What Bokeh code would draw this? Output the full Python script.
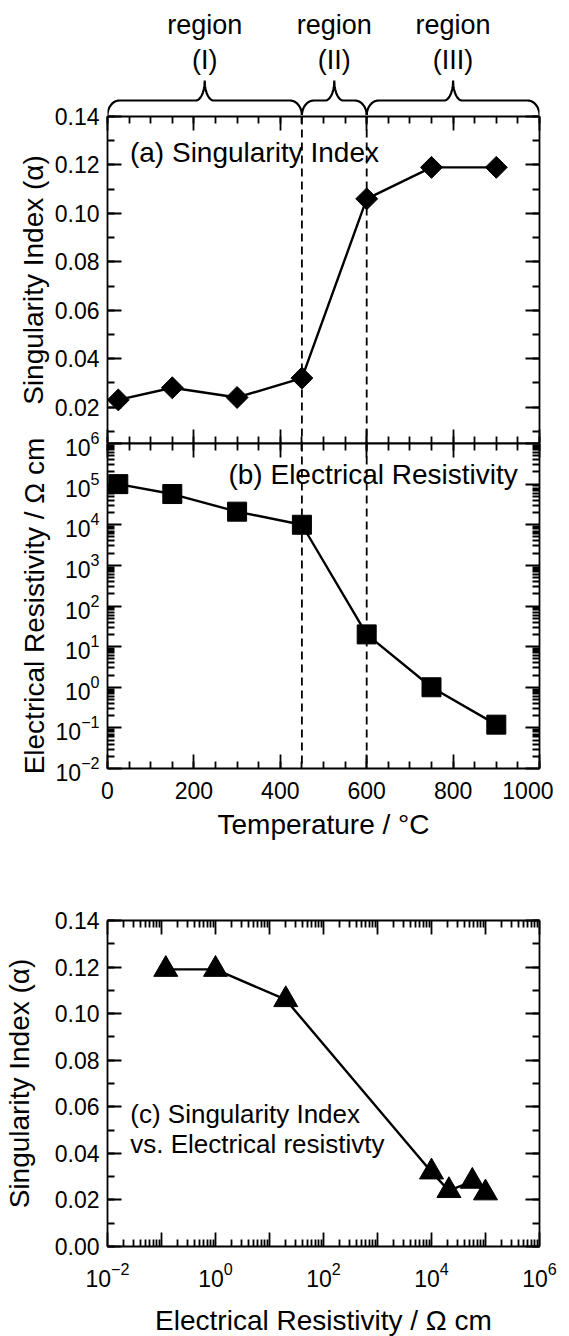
import numpy as np
from bokeh.plotting import figure
from bokeh.models import (Range1d, LinearAxis, LogAxis, SingleIntervalTicker, FixedTicker,
                          LogTickFormatter, PrintfTickFormatter, Span, Label)
from bokeh.layouts import column
from bokeh.embed import file_html
from bokeh.resources import INLINE
from bokeh.core.properties import value

# ---------------- data ----------------
temperature = [25, 150, 300, 450, 600, 750, 900]                 # deg C
singularity_index = [0.023, 0.028, 0.024, 0.032, 0.106, 0.119, 0.119]
resistivity = [1.0e5, 5.7e4, 2.1e4, 1.0e4, 20.0, 1.0, 0.12]     # Ohm cm
region_edges = [0, 450, 600, 1000]
region_names = ["(I)", "(II)", "(III)"]
decade_exponents = [-2, -1, 0, 1, 2, 3, 4, 5, 6]
labelled_exponents_c = [-2, 0, 2, 4, 6]

FONT = "Liberation Sans"
TICK_SIZE = "23px"
TITLE_SIZE = "28px"
LW = 1.8

decades = [10.0 ** e for e in decade_exponents]
log_minors = [m * 10.0 ** e for e in decade_exponents[:-1] for m in range(2, 10)]


def style_axis(ax, labels=True, title=None, standoff=8, title_standoff=6):
    ax.axis_line_width = LW
    ax.axis_line_color = "black"
    ax.major_tick_in = 14
    ax.major_tick_out = 0
    ax.minor_tick_in = 7
    ax.minor_tick_out = 0
    ax.major_tick_line_width = LW
    ax.minor_tick_line_width = LW
    ax.major_tick_line_color = "black"
    ax.minor_tick_line_color = "black"
    ax.major_label_text_font = FONT
    ax.major_label_text_font_size = TICK_SIZE
    ax.major_label_text_color = "black" if labels else None
    ax.major_label_standoff = standoff if labels else 0
    if title:
        ax.axis_label = title
        ax.axis_label_text_font = FONT
        ax.axis_label_text_font_size = TITLE_SIZE
        ax.axis_label_text_font_style = "normal"
        ax.axis_label_text_color = "black"
        ax.axis_label_standoff = title_standoff
    else:
        ax.axis_label = None


def base_fig(**kw):
    p = figure(output_backend="svg", toolbar_location=None, frame_width=432,
               min_border_left=98, min_border_right=23,
               background_fill_color="white", border_fill_color=None,
               outline_line_color=None, **kw)
    p.xgrid.visible = False
    p.ygrid.visible = False
    return p


xr = Range1d(0, 1000)

# ---------------- braces figure ----------------
p0 = base_fig(x_range=xr, y_range=Range1d(115, 8), frame_height=107,
              min_border_top=0, min_border_bottom=0, x_axis_type=None, y_axis_type=None)
p0.background_fill_color = None
kx = 1000.0 / 432.0
t = np.linspace(0, np.pi / 2, 20)
y_bot, y_h, y_tip = 115.0, 100.0, 80.0
for x0, x1 in zip(region_edges[:-1], region_edges[1:]):
    xm = 0.5 * (x0 + x1)
    r_end, r_cusp = 12 * kx, 9 * kx
    lx = x0 + r_end - r_end * np.cos(t)
    ly = y_bot - (y_bot - y_h) * np.sin(t)
    cx1 = xm - r_cusp + r_cusp * np.sin(t)
    cy1 = y_tip + (y_h - y_tip) * np.cos(t)
    cx2 = xm + r_cusp - r_cusp * np.sin(t[::-1])
    cy2 = y_tip + (y_h - y_tip) * np.cos(t[::-1])
    rx = x1 - r_end + r_end * np.cos(t[::-1])
    ry = y_bot - (y_bot - y_h) * np.sin(t[::-1])
    bx = np.concatenate([lx, cx1, cx2, rx])
    by = np.concatenate([ly, cy1, cy2, ry])
    p0.line(bx, by, line_color="black", line_width=2.2)

mids = [0.5 * (a + b) for a, b in zip(region_edges[:-1], region_edges[1:])]
p0.text(x=mids, y=[24] * 3, text=["region"] * 3, text_font=value(FONT),
        text_font_size="27px", text_align="center", text_baseline="alphabetic", text_color="black")
p0.text(x=mids, y=[59] * 3, text=region_names, text_font=value(FONT),
        text_font_size="27px", text_align="center", text_baseline="alphabetic", text_color="black")

# ---------------- panel (a) ----------------
pa = base_fig(x_range=xr, y_range=Range1d(0.005, 0.1400001), frame_height=327,
              min_border_top=21, min_border_bottom=0, margin=(-20, 0, 0, 0))
pa.xaxis.ticker = SingleIntervalTicker(interval=200, num_minor_ticks=4)
style_axis(pa.xaxis[0], labels=False)
pa.yaxis.ticker = SingleIntervalTicker(interval=0.02, num_minor_ticks=2)
pa.yaxis.formatter = PrintfTickFormatter(format="%.2f")
style_axis(pa.yaxis[0], labels=True, title="Singularity Index (α)", standoff=8, title_standoff=3)
top_a = LinearAxis(ticker=SingleIntervalTicker(interval=200, num_minor_ticks=4))
style_axis(top_a, labels=False)
pa.add_layout(top_a, "above")
right_a = LinearAxis(ticker=SingleIntervalTicker(interval=0.02, num_minor_ticks=2))
style_axis(right_a, labels=False)
pa.add_layout(right_a, "right")
for loc in region_edges[1:-1]:
    pa.add_layout(Span(location=loc, dimension="height", line_dash="8 5",
                       line_color="black", line_width=1.8))
pa.line(temperature, singularity_index, line_color="black", line_width=2.4)
pa.scatter(temperature, singularity_index, marker="square", angle=np.pi / 4, size=15.5,
           fill_color="black", line_color="black")
pa.add_layout(Label(x=52, y=0.1252, text="(a) Singularity Index", text_font=FONT,
                    text_font_size="28px", text_baseline="alphabetic", text_color="black"))

# ---------------- panel (b) ----------------
pb = base_fig(x_range=xr, y_range=Range1d(1e-2, 1e6), y_axis_type="log", frame_height=325,
              min_border_top=20, min_border_bottom=100, margin=(-20, 0, 0, 0))
pb.xaxis.ticker = SingleIntervalTicker(interval=200, num_minor_ticks=4)
style_axis(pb.xaxis[0], labels=True, title="Temperature / °C", standoff=13, title_standoff=7)
pb.yaxis.ticker = FixedTicker(ticks=decades, minor_ticks=log_minors)
pb.yaxis.formatter = LogTickFormatter()
style_axis(pb.yaxis[0], labels=True, title="Electrical Resistivity / Ω cm", standoff=8, title_standoff=3)
top_b = LinearAxis(ticker=SingleIntervalTicker(interval=200, num_minor_ticks=4))
style_axis(top_b, labels=False)
pb.add_layout(top_b, "above")
right_b = LogAxis(ticker=FixedTicker(ticks=decades, minor_ticks=log_minors))
style_axis(right_b, labels=False)
pb.add_layout(right_b, "right")
for loc in region_edges[1:-1]:
    pb.add_layout(Span(location=loc, dimension="height", line_dash="8 5",
                       line_color="black", line_width=1.8))
pb.line(temperature, resistivity, line_color="black", line_width=2.4)
pb.scatter(temperature, resistivity, marker="square", size=19,
           fill_color="black", line_color="black")
pb.add_layout(Label(x=280, y=1.74e5, text="(b) Electrical Resistivity", text_font=FONT,
                    text_font_size="28px", text_baseline="alphabetic", text_color="black"))

# ---------------- panel (c) ----------------
pc = base_fig(x_range=Range1d(1e-2, 1e6), y_range=Range1d(0.0, 0.1400001), x_axis_type="log",
              frame_height=326, min_border_top=52, min_border_bottom=90)
pc.xaxis.ticker = FixedTicker(ticks=decades, minor_ticks=log_minors)
pc.xaxis.formatter = LogTickFormatter()
pc.xaxis.major_label_overrides = {10.0 ** e: "" for e in decade_exponents if e not in labelled_exponents_c}
style_axis(pc.xaxis[0], labels=True, title="Electrical Resistivity / Ω cm", standoff=15, title_standoff=15)
pc.yaxis.ticker = SingleIntervalTicker(interval=0.02, num_minor_ticks=2)
pc.yaxis.formatter = PrintfTickFormatter(format="%.2f")
style_axis(pc.yaxis[0], labels=True, title="Singularity Index (α)", standoff=8, title_standoff=17)
top_c = LogAxis(ticker=FixedTicker(ticks=decades, minor_ticks=log_minors))
style_axis(top_c, labels=False)
pc.add_layout(top_c, "above")
right_c = LinearAxis(ticker=SingleIntervalTicker(interval=0.02, num_minor_ticks=2))
style_axis(right_c, labels=False)
pc.add_layout(right_c, "right")
pc.line(resistivity, singularity_index, line_color="black", line_width=2.4)
pc.scatter(resistivity, singularity_index, marker="triangle", size=24,
           fill_color="black", line_color="black")
pc.add_layout(Label(x=0.0264, y=0.0567, text="(c) Singularity Index", text_font=FONT,
                    text_font_size="26px", text_baseline="alphabetic", text_color="black"))
pc.add_layout(Label(x=0.0264, y=0.0439, text="vs. Electrical resistivty", text_font=FONT,
                    text_font_size="26px", text_baseline="alphabetic", text_color="black"))

layout = column(p0, pa, pb, pc, margin=(8, 0, 0, 0))
open("out.html", "w").write(file_html(layout, INLINE))
